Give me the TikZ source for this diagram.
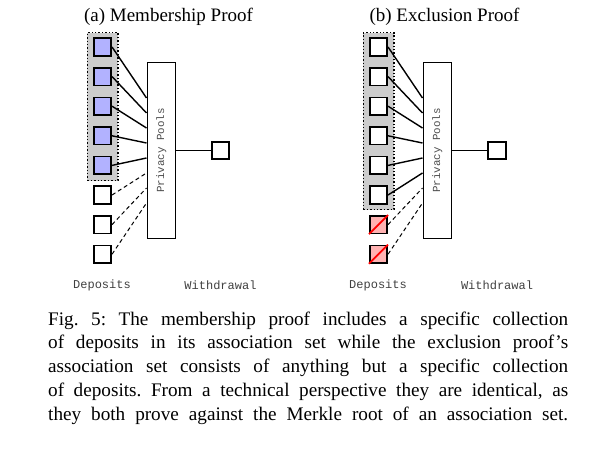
\documentclass[tikz,border=0pt]{standalone}
\usepackage{fontspec}
\setmainfont{Liberation Serif}
\setmonofont{Liberation Mono}
\frenchspacing
\begin{document}
\begin{tikzpicture}[x=1bp,y=-1bp,
  sq/.style={draw=black, line width=1.6bp, minimum size=17.5bp, inner sep=0pt},
  blue sq/.style={sq, fill=blue!30},
  white sq/.style={sq, fill=white},
  red sq/.style={sq, fill=red!30},
  poolbox/.style={draw=black, line width=1.6bp, fill=white, minimum width=28bp, minimum height=176bp, inner sep=0pt},
  setbox/.style={draw=black, fill=black!20, line width=1.4bp, dotted, inner sep=0pt, anchor=north west},
  link/.style={line width=1.4bp},
  dlink/.style={line width=1bp, dash pattern=on 4bp off 3bp},
  slash/.style={draw=red, line width=1.8bp},
  lbl/.style={font=\fontsize{12bp}{14bp}\selectfont\ttfamily, text=black!75, inner sep=0pt},
  pooltext/.style={font=\fontsize{10.8bp}{12bp}\selectfont\ttfamily, text=black!70, inner sep=0pt},
  title/.style={font=\fontsize{19bp}{23bp}\selectfont, anchor=base, inner sep=0pt},
  capline/.style={font=\fontsize{19.2bp}{23.75bp}\selectfont, anchor=base west, inner sep=0pt}
]
\useasboundingbox (0,0) rectangle (597,453);

% ---------- titles ----------
\node[title] (atitle) at (168.5,22) {(a) Membership Proof};
\node[title] (btitle) at (444.5,22) {(b) Exclusion Proof};

% ---------- association sets ----------
\node[setbox, minimum width=30.6bp, minimum height=148bp] (aset) at (86.7,32) {};
\node[setbox, minimum width=30.6bp, minimum height=177bp] (bset) at (362.7,32) {};

% ---------- pools ----------
\node[poolbox] (apool) at (161.3,150.5) {};
\node[pooltext, rotate=90] (apooltxt) at (apool.center) {Privacy Pools};
\node[poolbox] (bpool) at (437.3,150.5) {};
\node[pooltext, rotate=90] (bpooltxt) at (bpool.center) {Privacy Pools};

% ---------- deposits (a) ----------
\foreach \k in {1,...,5} \node[blue sq] (a\k) at (102.5,{47+29.6*(\k-1)}) {};
\foreach \k in {6,7,8} \node[white sq] (a\k) at (102.5,{47+29.6*(\k-1)}) {};
% ---------- deposits (b) ----------
\foreach \k in {1,...,6} \node[white sq] (b\k) at (378.5,{47+29.6*(\k-1)}) {};
\foreach \k in {7,8} \node[red sq] (b\k) at (378.5,{47+29.6*(\k-1)}) {};
\foreach \k in {7,8} \draw[slash] (b\k.south west) -- (b\k.north east);

% ---------- connectors ----------
\foreach \k in {1,...,5} {
  \pgfmathsetmacro\sh{52.5-15*(\k-1)}
  \draw[link] (a\k.east) -- ([yshift=\sh bp]apool.west);
}
\foreach \k in {6,7,8} {
  \pgfmathsetmacro\sh{52.5-15*(\k-1)}
  \draw[dlink] (a\k.east) -- ([yshift=\sh bp]apool.west);
}
\foreach \k in {1,...,6} {
  \pgfmathsetmacro\sh{52.5-15*(\k-1)}
  \draw[link] (b\k.east) -- ([yshift=\sh bp]bpool.west);
}
\foreach \k in {7,8} {
  \pgfmathsetmacro\sh{52.5-15*(\k-1)}
  \draw[dlink] (b\k.east) -- ([yshift=\sh bp]bpool.west);
}

% ---------- withdrawals ----------
\node[white sq] (aw) at (220.5,150.5) {};
\node[white sq] (bw) at (497,150.5) {};
\draw[link] (apool.east) -- (aw.west);
\draw[link] (bpool.east) -- (bw.west);

% ---------- labels ----------
\node[lbl] (adep) at (102,285) {Deposits};
\node[lbl] (awd) at (220.5,285) {Withdrawal};
\node[lbl] (bdep) at (378,285) {Deposits};
\node[lbl] (bwd) at (497,285) {Withdrawal};

% ---------- caption ----------
\node[capline] (cap1) at (48,325) {\makebox[520bp][s]{Fig. 5: The membership proof includes a specific collection}};
\node[capline] (cap2) at (48,348.75) {\makebox[520bp][s]{of deposits in its association set while the exclusion proof’s}};
\node[capline] (cap3) at (48,372.5) {\makebox[520bp][s]{association set consists of anything but a specific collection}};
\node[capline] (cap4) at (48,396.25) {\makebox[520bp][s]{of deposits. From a technical perspective they are identical, as}};
\node[capline] (cap5) at (48,420) {\makebox[520bp][s]{they both prove against the Merkle root of an association set.}};
\end{tikzpicture}
\end{document}
